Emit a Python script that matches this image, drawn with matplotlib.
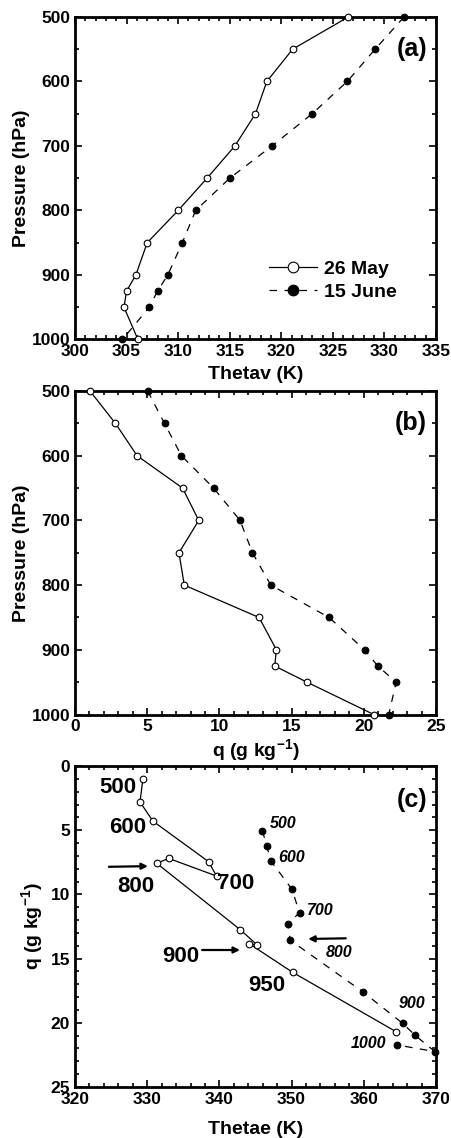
# Thetav, q and thetae soundings for 26 May and 15 June, three stacked panels

import matplotlib
matplotlib.use('Agg')
import matplotlib.pyplot as plt
from matplotlib.ticker import MultipleLocator

# Pressure levels (hPa)
levels = [500, 550, 600, 650, 700, 750, 800, 850, 900, 925, 950, 1000]

# Virtual potential temperature (K)
thetav_may = [326.5, 321.1, 318.6, 317.5, 315.5, 312.8, 310.0, 307.0, 305.9, 305.0, 304.75, 306.1]
thetav_june = [331.9, 329.1, 326.4, 323.0, 319.1, 315.0, 311.7, 310.4, 309.0, 308.0, 307.2, 304.6]

# Specific humidity (g/kg)
q_may = [1.04, 2.8, 4.3, 7.45, 8.57, 7.2, 7.57, 12.75, 13.95, 13.83, 16.07, 20.7]
q_june = [5.03, 6.2, 7.37, 9.6, 11.43, 12.29, 13.56, 17.6, 20.05, 20.97, 22.24, 21.73]

# Equivalent potential temperature (K)
thetae_may = [329.4, 329.0, 330.8, 338.5, 339.6, 333.0, 331.3, 342.9, 345.25, 344.1, 350.15, 364.5]
thetae_june = [345.95, 346.55, 347.1, 350.05, 351.1, 349.45, 349.8, 359.9, 365.4, 367.1, 369.85, 364.65]

series_labels = ['26 May', '15 June']

# Fonts: bold Helvetica look
plt.rcParams['font.family'] = ['Liberation Sans', 'DejaVu Sans']
plt.rcParams['font.weight'] = 'bold'
plt.rcParams['axes.labelweight'] = 'bold'
plt.rcParams['mathtext.fontset'] = 'custom'
plt.rcParams['mathtext.rm'] = 'Liberation Sans:bold'
plt.rcParams['mathtext.bf'] = 'Liberation Sans:bold'
plt.rcParams['mathtext.it'] = 'Liberation Sans:bold:italic'

fig = plt.figure(figsize=(4.51, 11.38), dpi=100)

left, width = 0.1663, 0.8004
ax_a = fig.add_axes([left, 0.7017, width, 0.2834])
ax_b = fig.add_axes([left, 0.3721, width, 0.2843])
ax_c = fig.add_axes([left, 0.0448, width, 0.2821])

may_style = dict(color='black', lw=0.9, ls='-', marker='o', ms=4.8,
                 mfc='white', mec='black', mew=0.8, clip_on=False, zorder=3)
june_style = dict(color='black', lw=0.9, ls=(0, (6, 6)), marker='o', ms=4.8,
                  mfc='black', mec='black', mew=0.8, clip_on=False, zorder=3)


def style_axes(ax, xmaj, xmin, ymaj, ymin):
    ax.xaxis.set_major_locator(MultipleLocator(xmaj))
    ax.xaxis.set_minor_locator(MultipleLocator(xmin))
    ax.yaxis.set_major_locator(MultipleLocator(ymaj))
    ax.yaxis.set_minor_locator(MultipleLocator(ymin))
    ax.tick_params(which='both', direction='in', top=True, right=True, width=1.2)
    ax.tick_params(which='major', length=5, labelsize=12.5, pad=3.5)
    ax.tick_params(which='minor', length=3)
    for spine in ax.spines.values():
        spine.set_linewidth(2.0)
    for lab in ax.get_xticklabels() + ax.get_yticklabels():
        lab.set_fontweight('bold')


# Panel (a): thetav profile
ax_a.plot(thetav_may, levels, label=series_labels[0], **may_style)
ax_a.plot(thetav_june, levels, label=series_labels[1], **june_style)
ax_a.set_xlim(300, 335)
ax_a.set_ylim(1000, 500)
style_axes(ax_a, 5, 1, 100, 50)
ax_a.set_xlabel('Thetav (K)', fontsize=14, labelpad=5)
ax_a.set_ylabel('Pressure (hPa)', fontsize=14, labelpad=1)
ax_a.text(0.975, 0.90, '(a)', transform=ax_a.transAxes, ha='right', va='center',
          fontsize=18, fontweight='bold')
ax_a.legend(loc='center left', bbox_to_anchor=(0.537, 0.183), frameon=False,
            fontsize=14, handlelength=2.5, handletextpad=0.35, labelspacing=0.3,
            markerscale=1.6, borderpad=0, borderaxespad=0)

# Panel (b): q profile
ax_b.plot(q_may, levels, **may_style)
ax_b.plot(q_june, levels, **june_style)
ax_b.set_xlim(0, 25)
ax_b.set_ylim(1000, 500)
style_axes(ax_b, 5, 1, 100, 50)
ax_b.set_xlabel(r'q (g kg$^{-1}$)', fontsize=14, labelpad=2)
ax_b.set_ylabel('Pressure (hPa)', fontsize=14, labelpad=1)
ax_b.text(0.975, 0.90, '(b)', transform=ax_b.transAxes, ha='right', va='center',
          fontsize=18, fontweight='bold')

# Panel (c): q against thetae
ax_c.plot(thetae_may, q_may, **may_style)
ax_c.plot(thetae_june, q_june, **june_style)
ax_c.set_xlim(320, 370)
ax_c.set_ylim(25, 0)
style_axes(ax_c, 10, 2, 5, 1)
ax_c.set_xlabel('Thetae (K)', fontsize=14, labelpad=10)
ax_c.set_ylabel(r'q (g kg$^{-1}$)', fontsize=14, labelpad=4)
ax_c.text(0.975, 0.894, '(c)', transform=ax_c.transAxes, ha='right', va='center',
          fontsize=18, fontweight='bold')

# Level labels, 26 May (big upright)
big = dict(fontsize=16, fontweight='bold', ha='center', va='center')
ax_c.text(326.0, 1.7, '500', **big)
ax_c.text(327.3, 4.8, '600', **big)
ax_c.text(328.45, 9.4, '800', **big)
ax_c.text(342.2, 9.15, '700', **big)
ax_c.text(334.6, 14.8, '900', **big)
ax_c.text(346.6, 17.1, '950', **big)

# Level labels, 15 June (small italic)
small = dict(fontsize=11.5, fontweight='bold', fontstyle='italic', ha='center', va='center')
ax_c.text(348.85, 4.45, '500', **small)
ax_c.text(350.0, 7.1, '600', **small)
ax_c.text(353.9, 11.25, '700', **small)
ax_c.text(356.6, 14.55, '800', **small)
ax_c.text(366.7, 18.5, '900', **small)
ax_c.text(360.7, 21.6, '1000', **small)

# Arrows
arrow = dict(arrowstyle='-|>', lw=1.6, color='black', mutation_scale=9,
             shrinkA=0, shrinkB=0)
ax_c.annotate('', xy=(330.1, 7.8), xytext=(324.7, 7.85), arrowprops=arrow)
ax_c.annotate('', xy=(342.85, 14.33), xytext=(337.6, 14.33), arrowprops=arrow)
ax_c.annotate('', xy=(352.3, 13.47), xytext=(357.5, 13.42), arrowprops=arrow)

plt.savefig('out.png', dpi=100)
